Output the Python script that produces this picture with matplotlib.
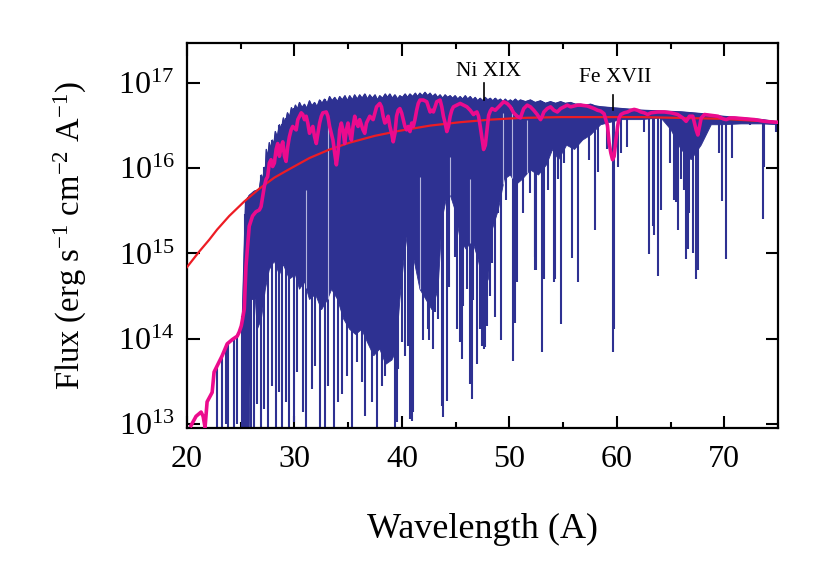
import numpy as np
import matplotlib
matplotlib.use("Agg")
import matplotlib.pyplot as plt
from matplotlib.ticker import MultipleLocator, FixedLocator, NullLocator, LogFormatterMathtext

plt.rcParams['font.family'] = ['Liberation Serif', 'DejaVu Serif']
plt.rcParams['mathtext.fontset'] = 'custom'
plt.rcParams['mathtext.rm'] = 'Liberation Serif'
plt.rcParams['mathtext.it'] = 'Liberation Serif:italic'
plt.rcParams['mathtext.bf'] = 'Liberation Serif:bold'

# ---------------- data (log10 of flux) ----------------
# upper edge of the model spectrum (dark blue)
env_x = [22.70, 23.00, 23.27, 23.74, 24.21, 24.67, 25.05, 25.17, 25.45, 25.79, 26.26, 26.73,
         26.92, 27.05, 27.20, 27.29, 27.38, 27.52, 27.66, 27.80, 27.94, 28.08, 28.22, 28.40,
         28.60, 28.78, 28.97, 29.15, 29.35, 29.55, 29.72, 29.90, 30.09, 30.28, 30.47, 30.70,
         30.93, 31.15, 31.40, 31.62, 31.87, 32.10, 32.34, 32.57, 32.80, 33.05, 33.27, 33.50,
         33.75, 34.00, 34.21, 34.45, 34.70, 34.92, 35.14, 35.40, 35.60, 35.85, 36.07, 36.30,
         36.55, 36.80, 37.01, 37.25, 37.50, 37.72, 37.94, 38.20, 38.45, 38.65, 38.88, 39.10,
         39.35, 39.60, 39.81, 40.05, 40.30, 40.52, 40.75, 41.00, 41.25, 41.45, 41.68, 41.90,
         42.15, 42.40, 42.62, 42.85, 43.10, 43.32, 43.55, 43.80, 44.02, 44.25, 44.49, 44.72,
         44.95, 45.20, 45.42, 45.65, 45.90, 46.12, 46.36, 46.60, 46.82, 47.05, 47.29, 47.50,
         47.75, 48.00, 48.22, 48.45, 48.70, 48.92, 49.16, 49.40, 49.62, 49.85, 50.09, 50.32,
         50.56, 50.80, 51.03, 51.50, 51.96, 52.40, 52.90, 53.35, 53.83, 54.30, 54.77, 55.20,
         55.70, 56.15, 56.64, 57.10, 57.57, 58.00, 58.50, 59.44, 60.37, 62.24, 64.11, 65.98,
         67.85, 69.72, 71.59, 73.46, 75.14]
env_log = [13.64, 13.73, 13.80, 13.94, 13.99, 14.03, 14.15, 14.30, 15.60, 15.68, 15.73, 15.75,
           15.92, 15.85, 16.01, 15.95, 16.22, 16.12, 16.30, 16.22, 16.33, 16.27, 16.43, 16.36,
           16.51, 16.45, 16.59, 16.52, 16.65, 16.60, 16.71, 16.66, 16.74, 16.69, 16.77, 16.71,
           16.75, 16.70, 16.79, 16.73, 16.77, 16.72, 16.80, 16.76, 16.81, 16.76, 16.84, 16.79,
           16.83, 16.78, 16.84, 16.80, 16.85, 16.79, 16.85, 16.80, 16.86, 16.81, 16.86, 16.82,
           16.87, 16.81, 16.86, 16.82, 16.86, 16.80, 16.85, 16.82, 16.87, 16.83, 16.87, 16.82,
           16.86, 16.81, 16.85, 16.83, 16.87, 16.83, 16.87, 16.84, 16.88, 16.84, 16.88, 16.85,
           16.89, 16.85, 16.88, 16.84, 16.87, 16.83, 16.86, 16.82, 16.86, 16.83, 16.85, 16.82,
           16.85, 16.81, 16.84, 16.81, 16.85, 16.81, 16.84, 16.80, 16.83, 16.79, 16.82, 16.79,
           16.83, 16.80, 16.82, 16.79, 16.82, 16.79, 16.81, 16.78, 16.81, 16.78, 16.80, 16.78,
           16.81, 16.78, 16.80, 16.78, 16.80, 16.77, 16.79, 16.76, 16.78, 16.76, 16.78, 16.76,
           16.77, 16.75, 16.75, 16.74, 16.75, 16.73, 16.72, 16.71, 16.70, 16.68, 16.67, 16.66,
           16.64, 16.61, 16.59, 16.57, 16.54]

# lower edge of the blended (solid) absorption region
low_x = [25.17, 25.79, 25.98, 26.36, 26.54, 26.92, 27.29, 27.66, 28.13, 28.60, 28.97, 29.53,
         30.09, 30.47, 30.93, 31.40, 31.96, 32.52, 33.08, 33.46, 34.02, 34.58, 35.14, 35.70,
         36.26, 36.82, 37.38, 37.94, 38.50, 39.07, 39.44, 39.81, 40.19, 40.56, 40.93, 41.31,
         41.68, 42.24, 42.80, 43.36, 43.74, 44.11, 44.49, 44.95, 45.42, 45.98, 46.54, 47.10,
         47.66, 48.04, 48.41, 48.97, 49.53, 50.09, 50.65, 51.21, 51.96, 52.71, 53.46, 54.02,
         54.58, 55.33, 56.07, 56.82, 57.57, 58.50, 59.44, 60.37, 62.24, 64.11, 65.05, 65.98,
         66.92, 67.85, 68.79, 69.72, 71.59, 73.46, 75.14]
low_log = [12.90, 12.90, 14.46, 14.46, 14.11, 14.23, 14.58, 14.81, 14.91, 14.75, 14.87, 14.70,
           14.75, 14.58, 14.67, 14.46, 14.52, 14.34, 14.46, 14.58, 14.46, 14.23, 14.11, 14.05,
           14.11, 13.95, 13.80, 13.88, 13.70, 13.75, 13.85, 14.46, 14.93, 15.28, 15.05, 14.81,
           14.58, 14.46, 14.34, 14.58, 15.40, 15.63, 15.69, 15.51, 15.16, 15.05, 15.16, 14.93,
           14.58, 14.70, 15.28, 15.51, 15.87, 15.92, 15.81, 15.87, 15.98, 15.92, 16.04, 16.22,
           16.10, 16.27, 16.22, 16.33, 16.39, 16.51, 16.54, 16.57, 16.57, 16.59, 16.45, 16.22,
           16.10, 16.27, 16.51, 16.51, 16.52, 16.52, 16.51]

# individual absorption lines: wavelength and depth reached
line_x = [22.80, 23.27, 23.64, 23.83, 24.39, 24.67, 25.14, 25.42, 25.70, 25.98, 26.26, 26.54,
          26.92, 27.20, 27.57, 27.94, 28.32, 28.60, 28.88, 29.25, 29.53, 30.00, 30.28, 30.75,
          31.12, 31.59, 31.87, 32.34, 32.80, 33.08, 33.64, 34.02, 34.39, 34.86, 35.33, 35.79,
          36.26, 36.54, 37.20, 37.66, 38.13, 38.41, 38.88, 39.35, 39.53, 39.63, 40.00, 40.28,
          40.56, 40.75, 40.93, 41.03, 41.40, 41.96, 42.43, 42.52, 42.90, 43.08, 43.36, 43.74,
          43.83, 44.21, 44.39, 44.95, 45.14, 45.42, 45.61, 45.70, 46.07, 46.36, 46.54, 46.64,
          47.01, 47.29, 47.48, 47.66, 47.76, 47.94, 48.22, 48.41, 48.69, 48.97, 49.25, 49.72,
          50.37, 50.56, 50.75, 51.31, 51.96, 52.34, 52.43, 52.52, 52.99, 53.18, 53.64, 54.11,
          54.21, 54.49, 54.77, 55.05, 55.79, 56.36, 57.38, 57.94, 58.22, 59.07, 59.63, 59.72,
          60.09, 60.37, 60.93, 62.52, 62.99, 63.36, 63.46, 63.83, 64.11, 64.95, 65.33, 65.51,
          65.70, 65.98, 66.26, 66.45, 66.64, 66.73, 67.10, 67.38, 67.57, 69.53, 69.81, 70.19,
          70.75, 72.43, 73.64, 73.74, 74.77]
line_log = [12.90, 12.90, 13.00, 12.90, 12.90, 13.00, 12.90, 12.90, 12.90, 12.90, 12.90, 13.23,
            12.90, 13.18, 12.90, 13.44, 12.90, 13.37, 12.90, 13.26, 12.90, 13.02, 13.61, 13.14,
            12.90, 13.41, 13.68, 12.90, 12.90, 13.44, 12.90, 13.26, 13.35, 13.56, 12.90, 13.73,
            13.49, 13.09, 13.26, 12.90, 13.44, 13.56, 13.80, 12.90, 13.02, 13.64, 13.96, 13.80,
            13.91, 13.06, 13.04, 13.14, 15.13, 13.99, 14.11, 13.99, 13.88, 14.31, 14.23, 13.21,
            13.08, 13.27, 14.61, 14.96, 14.11, 13.96, 13.76, 14.38, 14.58, 13.47, 13.29, 14.46,
            13.70, 14.11, 13.91, 13.88, 13.90, 14.15, 14.50, 14.89, 14.26, 15.48, 13.99, 15.63,
            13.74, 14.19, 14.66, 15.48, 15.71, 14.96, 14.81, 14.81, 13.84, 14.70, 15.75, 14.67,
            14.70, 15.87, 14.17, 16.06, 14.95, 14.66, 16.10, 15.28, 15.95, 16.22, 13.84, 14.11,
            16.02, 16.18, 16.25, 16.43, 14.99, 15.32, 15.22, 14.73, 15.51, 16.06, 15.63, 15.60,
            15.28, 15.87, 15.75, 14.93, 15.05, 15.48, 15.01, 14.70, 14.81, 16.18, 15.61, 14.93,
            16.12, 16.51, 15.40, 16.02, 16.43]

# light gaps between blended lines
gap_x = [31.09, 33.11, 41.68, 44.49, 46.36, 49.44, 50.28, 51.68]
gap_log = [15.75, 16.55, 15.90, 16.13, 15.87, 16.65, 16.72, 16.57]

# smoothed spectrum (magenta)
pink_x = [20.37, 20.84, 21.31, 21.50, 21.68, 21.87, 22.34, 22.52, 23.00, 23.27, 23.74, 24.21,
          24.67, 24.86, 25.05, 25.17, 25.33, 25.49, 25.79, 26.10, 26.42, 26.73, 26.89, 27.04,
          27.20, 27.36, 27.50, 27.66, 27.82, 27.97, 28.13, 28.29, 28.44, 28.60, 28.76, 28.91,
          29.07, 29.22, 29.37, 29.53, 29.69, 29.84, 30.16, 30.31, 30.47, 30.63, 30.78, 30.93,
          31.09, 31.24, 31.40, 31.56, 31.71, 31.87, 32.03, 32.18, 32.34, 32.50, 32.64, 32.96,
          33.11, 33.27, 33.58, 33.74, 33.90, 34.05, 34.21, 34.36, 34.51, 34.67, 34.83, 34.98,
          35.14, 35.30, 35.45, 35.61, 35.77, 35.92, 36.07, 36.38, 36.54, 36.70, 37.01, 37.32,
          37.64, 37.94, 38.10, 38.25, 38.41, 38.57, 38.72, 38.88, 39.04, 39.19, 39.35, 39.50,
          39.65, 39.81, 39.97, 40.12, 40.28, 40.44, 40.59, 40.75, 40.91, 41.06, 41.21, 41.37,
          41.52, 41.68, 41.99, 42.31, 42.46, 42.62, 42.78, 42.93, 43.08, 43.24, 43.55, 43.71,
          43.86, 44.02, 44.18, 44.33, 44.49, 44.64, 44.79, 45.11, 45.42, 45.73, 46.05, 46.36,
          46.66, 46.82, 46.98, 47.13, 47.29, 47.45, 47.60, 47.76, 47.92, 48.07, 48.22, 48.38,
          48.69, 49.00, 49.16, 49.47, 49.79, 50.09, 50.40, 50.72, 51.03, 51.19, 51.34, 51.66,
          51.96, 52.27, 52.59, 52.90, 53.06, 53.21, 53.52, 53.83, 54.14, 54.46, 54.77, 55.07,
          55.39, 55.70, 56.01, 56.33, 56.64, 57.26, 57.88, 58.20, 58.50, 58.81, 59.13, 59.28,
          59.44, 59.60, 59.75, 59.91, 60.07, 60.21, 60.37, 60.68, 61.00, 61.31, 61.62, 61.93,
          62.24, 62.55, 62.87, 63.18, 63.80, 64.42, 65.05, 65.67, 66.14, 66.45, 66.76, 67.07,
          67.38, 67.54, 67.69, 67.85, 68.16, 68.79, 69.41, 69.88, 70.19, 70.50, 70.96, 71.90,
          72.83, 73.77, 74.70, 75.00]
pink_log = [12.98, 13.09, 13.14, 13.09, 12.96, 13.26, 13.37, 13.61, 13.73, 13.80, 13.94, 13.99,
            14.03, 14.08, 14.15, 14.23, 14.35, 14.85, 15.32, 15.44, 15.49, 15.51, 15.55, 15.67,
            15.79, 15.87, 15.90, 16.06, 16.10, 16.02, 16.06, 16.22, 16.29, 16.14, 16.25, 16.31,
            16.14, 16.08, 16.25, 16.37, 16.45, 16.49, 16.45, 16.57, 16.61, 16.65, 16.63, 16.57,
            16.61, 16.53, 16.41, 16.45, 16.49, 16.37, 16.29, 16.41, 16.53, 16.61, 16.65, 16.66,
            16.61, 16.49, 16.33, 16.18, 16.04, 16.18, 16.45, 16.53, 16.45, 16.29, 16.45, 16.53,
            16.41, 16.33, 16.49, 16.61, 16.53, 16.49, 16.57, 16.45, 16.41, 16.53, 16.61, 16.57,
            16.72, 16.76, 16.72, 16.61, 16.53, 16.55, 16.61, 16.49, 16.41, 16.31, 16.41, 16.61,
            16.68, 16.70, 16.65, 16.57, 16.49, 16.45, 16.49, 16.43, 16.53, 16.49, 16.57, 16.68,
            16.76, 16.80, 16.80, 16.78, 16.72, 16.66, 16.68, 16.66, 16.72, 16.78, 16.80, 16.72,
            16.61, 16.53, 16.43, 16.49, 16.61, 16.68, 16.72, 16.74, 16.76, 16.74, 16.72, 16.68,
            16.63, 16.65, 16.66, 16.61, 16.49, 16.35, 16.22, 16.27, 16.45, 16.62, 16.67, 16.70,
            16.68, 16.72, 16.74, 16.78, 16.76, 16.72, 16.65, 16.61, 16.59, 16.65, 16.70, 16.74,
            16.72, 16.68, 16.63, 16.57, 16.61, 16.66, 16.70, 16.72, 16.68, 16.66, 16.70, 16.72,
            16.74, 16.72, 16.73, 16.74, 16.74, 16.73, 16.70, 16.68, 16.67, 16.64, 16.50, 16.30,
            16.18, 16.10, 16.14, 16.33, 16.49, 16.59, 16.63, 16.65, 16.66, 16.68, 16.69, 16.68,
            16.66, 16.65, 16.63, 16.65, 16.66, 16.66, 16.65, 16.63, 16.59, 16.55, 16.61, 16.61,
            16.45, 16.39, 16.49, 16.59, 16.63, 16.62, 16.61, 16.58, 16.57, 16.59, 16.59, 16.58,
            16.57, 16.55, 16.54, 16.54]

# blackbody (red)
bb_x = [20.00, 21.12, 22.06, 22.80, 23.93, 25.33, 26.73, 28.13, 29.53, 31.40, 33.27, 35.14,
        37.48, 39.81, 42.62, 45.42, 48.22, 51.03, 54.77, 58.50, 62.24, 65.98, 69.72, 75.14]
bb_log = [14.84, 15.02, 15.16, 15.28, 15.44, 15.61, 15.76, 15.89, 15.99, 16.12, 16.22, 16.30,
          16.38, 16.44, 16.50, 16.54, 16.57, 16.59, 16.60, 16.60, 16.60, 16.59, 16.58, 16.54]

# line identifications
ion_labels = ["Ni XIX", "Fe XVII"]
ion_x = [47.66, 59.63]
ion_text_x = [48.04, 59.81]
ion_text_log = [17.14, 17.07]
ion_mark_top = [17.00, 16.86]
ion_mark_bot = [16.80, 16.68]

xticks = [20, 30, 40, 50, 60, 70]

# ---------------- drawing ----------------
BLUE = '#2e3192'
PINK = '#ec0b8d'
RED = '#ed1c24'

fig = plt.figure(figsize=(8.22, 5.85), dpi=100)
ax = fig.add_axes([0.2275, 0.2684, 0.7190, 0.6581])
ax.set_yscale('log')

env_x_a = np.array(env_x)
env_log_a = np.array(env_log)
low_x_a = np.array(low_x)
low_log_a = np.array(low_log)

sel = env_x_a >= low_x_a[0]
poly_x = np.concatenate([env_x_a[sel], low_x_a[::-1]])
poly_y = 10 ** np.concatenate([env_log_a[sel], low_log_a[::-1]])
ax.fill(poly_x, poly_y, color=BLUE, lw=0.6, zorder=2)
ax.plot(env_x_a, 10 ** env_log_a, color=BLUE, lw=1.0, zorder=2)

lx = np.array(line_x)
tops = 10 ** np.interp(lx, env_x_a, env_log_a)
ax.vlines(lx, 10 ** np.array(line_log), tops, color=BLUE, lw=1.5, zorder=2)

gx = np.array(gap_x)
gbot = 10 ** np.interp(gx, low_x_a, low_log_a)
ax.vlines(gx, gbot, 10 ** np.array(gap_log), color='#b4b5dc', lw=0.8, zorder=2.5)

ax.plot(bb_x, 10 ** np.array(bb_log), color=RED, lw=1.6, zorder=3)
ax.plot(pink_x, 10 ** np.array(pink_log), color=PINK, lw=2.6, zorder=4,
        solid_joinstyle='round')

for lab, xm, tx, ty, mt, mb in zip(ion_labels, ion_x, ion_text_x, ion_text_log,
                                    ion_mark_top, ion_mark_bot):
    ax.text(tx, 10 ** ty, lab, ha='center', va='center', fontsize=15.5, zorder=5)
    ax.plot([xm, xm], [10 ** mb, 10 ** mt], color='black', lw=1.2, zorder=5)

ax.set_xlim(20, 75)
ax.set_ylim(10 ** 12.953, 10 ** 17.469)

ax.xaxis.set_major_locator(FixedLocator(xticks))
ax.xaxis.set_minor_locator(MultipleLocator(5))
ax.yaxis.set_major_locator(FixedLocator([1e13, 1e14, 1e15, 1e16, 1e17]))
ax.yaxis.set_minor_locator(NullLocator())
ax.yaxis.set_major_formatter(LogFormatterMathtext())

ax.tick_params(which='both', direction='in', top=True, right=True, width=1.5)
ax.tick_params(which='major', length=9)
ax.tick_params(which='minor', length=4.5)
ax.tick_params(axis='x', labelsize=23, pad=12)
ax.tick_params(axis='y', labelsize=23, pad=9)
for sp in ax.spines.values():
    sp.set_linewidth(1.6)

ax.set_xlabel('Wavelength (A)', fontsize=26)
ax.xaxis.set_label_coords(0.5, -0.22)
ax.set_ylabel(r'Flux (erg s$^{-1}$ cm$^{-2}$ A$^{-1}$)', fontsize=23.5)
ax.yaxis.set_label_coords(-0.165, 0.5)

fig.savefig('out.png', dpi=100)
